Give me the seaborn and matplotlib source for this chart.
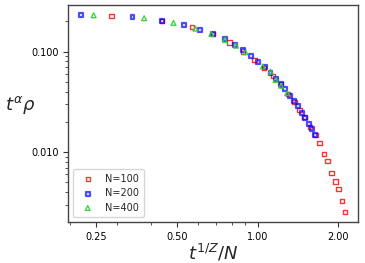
import numpy as np
import pandas as pd
import matplotlib
matplotlib.use('Agg')
import matplotlib.pyplot as plt
import matplotlib.ticker as mticker
import seaborn as sns

# scaled data (x = t^{1/Z}/N, y = t^alpha rho)
x_n100 = [0.286, 0.441, 0.570, 0.684, 0.787, 0.883, 0.975, 1.055, 1.14, 1.225,
          1.296, 1.373, 1.433, 1.495, 1.57, 1.643, 1.705, 1.765, 1.825, 1.888,
          1.95, 2.005, 2.06, 2.12]
y_n100 = [0.226, 0.203, 0.175, 0.149, 0.123, 0.100, 0.0827, 0.0684, 0.0573, 0.047,
          0.038, 0.0316, 0.0263, 0.0223, 0.0177, 0.0149, 0.0123, 0.0096, 0.00814, 0.00618,
          0.0051, 0.00432, 0.00326, 0.00255]

x_n200 = [0.22, 0.342, 0.442, 0.53, 0.61, 0.685, 0.756, 0.821, 0.885, 0.948,
          1.006, 1.062, 1.118, 1.17, 1.225, 1.27, 1.323, 1.369, 1.417, 1.466,
          1.508, 1.556, 1.597, 1.643]
y_n200 = [0.230, 0.220, 0.203, 0.184, 0.1655, 0.149, 0.134, 0.1166, 0.104, 0.090,
          0.0796, 0.070, 0.0618, 0.0532, 0.0474, 0.0429, 0.0365, 0.0326, 0.0286, 0.0244,
          0.0218, 0.0192, 0.0171, 0.0149]

x_n400 = [0.245, 0.378, 0.486, 0.587, 0.673, 0.756, 0.831, 0.902, 1.046, 1.118,
          1.168, 1.225, 1.29]
y_n400 = [0.230, 0.215, 0.193, 0.169, 0.150, 0.1307, 0.1147, 0.0986, 0.0710, 0.0633,
          0.0523, 0.0459, 0.0386]

x_ticks = [0.25, 0.5, 1.0, 2.0]
y_ticks = [0.01, 0.1]

sns.set_style('white')
plt.rcParams['font.family'] = ['DejaVu Sans']
plt.rcParams['mathtext.fontset'] = 'dejavusans'

fig = plt.figure(figsize=(3.65, 2.63), dpi=100)
ax = fig.add_axes([0.187, 0.155, 0.794, 0.826])

sns.scatterplot(x=x_n100, y=y_n100, marker='s', s=10, facecolors='none',
                edgecolors='red', linewidth=1.0, alpha=0.8, label='N=100', ax=ax, zorder=2)
sns.scatterplot(x=x_n200, y=y_n200, marker='s', s=8, facecolors='none',
                edgecolors='blue', linewidth=1.6, alpha=0.7, label='N=200', ax=ax, zorder=3)
sns.scatterplot(x=x_n400, y=y_n400, marker='^', s=12, facecolors='none',
                edgecolors='limegreen', linewidth=1.0, alpha=0.9, label='N=400', ax=ax, zorder=4)

ax.set_xscale('log')
ax.set_yscale('log')
ax.set_xlim(0.197, 2.37)
ax.set_ylim(0.00201, 0.291)

ax.xaxis.set_major_locator(mticker.FixedLocator(x_ticks))
ax.xaxis.set_major_formatter(mticker.FormatStrFormatter('%.2f'))
ax.xaxis.set_minor_locator(mticker.LogLocator(base=10, subs=np.arange(2, 10)))
ax.xaxis.set_minor_formatter(mticker.NullFormatter())
ax.yaxis.set_major_locator(mticker.FixedLocator(y_ticks))
ax.yaxis.set_major_formatter(mticker.FormatStrFormatter('%.3f'))
ax.yaxis.set_minor_locator(mticker.LogLocator(base=10, subs=np.arange(2, 10)))
ax.yaxis.set_minor_formatter(mticker.NullFormatter())

ax.tick_params(which='major', length=3.5, width=0.8, labelsize=7, colors='#333333',
               labelcolor='black', left=True, bottom=True)
ax.tick_params(which='minor', length=2, width=0.6, colors='#333333', left=True, bottom=True)

for sp in ax.spines.values():
    sp.set_color('#444444')
    sp.set_linewidth(1.0)

ax.set_xlabel(r'$t^{1/Z}/N$', fontsize=13, labelpad=0)
ax.set_ylabel(r'$t^{\alpha}\rho$', fontsize=13, rotation=0, va='center', ha='center')
ax.yaxis.set_label_coords(-0.165, 0.54)

ax.legend(loc='lower left', fontsize=7, frameon=True, handletextpad=0.8,
          borderpad=0.5, labelspacing=0.45, markerscale=1.0)

fig.savefig('out.png', dpi=100)
